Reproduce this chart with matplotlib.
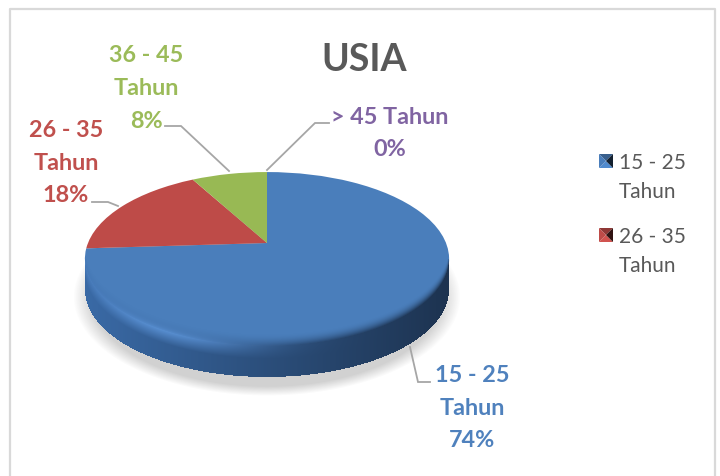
import numpy as np
from matplotlib import pyplot as plt
from matplotlib.transforms import Transform

plt.rcParams['font.family'] = ['Lato', 'DejaVu Sans']

# data
categories = ['15 - 25 Tahun', '26 - 35 Tahun', '36 - 45 Tahun', '> 45 Tahun']
values = [74, 18, 8, 0]
slice_colors = ['#4a7ebb', '#be4b48', '#98b954', '#7d60a0']
label_colors = ['#4f81bd', '#c0504d', '#9bbb59', '#8064a2']
label_lines = [['15 - 25', 'Tahun', '74%'], ['26 - 35', 'Tahun', '18%'],
               ['36 - 45', 'Tahun', '8%'], ['> 45 Tahun', '0%']]
legend_lines = [['15 - 25', 'Tahun'], ['26 - 35', 'Tahun']]
title = 'USIA'

# layout in pixels
label_pos = [(472, 376), (66, 131), (146, 56), (390, 117)]
leaders = [([410, 418, 430], [348, 383, 383]),
           ([92, 108, 118], [203, 203, 207]),
           ([165, 181, 229], [127, 127, 172]),
           ([329, 315, 267], [124, 124, 171])]
cx, apex_y, rx, ry, k = 267, 244, 179, 84, 0.184
ecy, erx, ery, depth = 260, 182, 87, 31


class Tilt(Transform):
    # tilted disc seen in perspective: unit pie -> pixels
    input_dims = output_dims = 2
    is_separable = False

    def transform_non_affine(self, xy):
        xy = np.asarray(xy, float)
        w = 1 + k * xy[:, 1]
        return np.column_stack([cx + rx * xy[:, 0] / w, apex_y - ry * xy[:, 1] / w])


fig = plt.figure(figsize=(7.2, 4.77), dpi=100)
ax = fig.add_axes([0, 0, 1, 1])

wedges, _ = ax.pie(values, colors=slice_colors, startangle=90, counterclock=False,
                   wedgeprops={'linewidth': 0})
tilt = Tilt()
for w in wedges:
    w.set_transform(tilt + ax.transData)
    w.set_zorder(3)
    w.set_clip_on(False)

# soft shadow, side wall and rim shading
X, Y = np.meshgrid(np.arange(720) + .5, np.arange(477) + .5)
d = np.sqrt(((X - cx) / 188) ** 2 + ((Y - 298) / 96) ** 2)
shadow = np.zeros((477, 720, 4))
shadow[..., :3] = 0.55
shadow[..., 3] = np.clip((1.03 - d) / 0.1, 0, 1) * 0.4
ax.imshow(shadow, extent=(0, 720, 477, 0), aspect='auto', zorder=1)

xn = np.clip((X - cx) / erx, -1, 1)
ylow = ecy + ery * np.sqrt(1 - xn ** 2)
t = (Y - ylow) / depth
pos = np.clip((X - (cx - erx)) / (2 * erx), 0, 1)
dark_l, dark_r = np.array([0x3a, 0x6a, 0xa6]), np.array([0x1d, 0x33, 0x50])
wall = dark_l[None, None, :] * (1 - pos[..., None]) + dark_r[None, None, :] * pos[..., None]
# highlight on the front left of the rim, fading towards the bottom
glow = np.exp(-((pos - 0.22) / 0.24) ** 2) * np.clip(1 - np.abs(t) / 0.4, 0, 1) * 0.75
wall = wall + (np.array([0x62, 0x9c, 0xe2]) - wall) * glow[..., None]
band = np.zeros((477, 720, 4))
band[..., :3] = wall / 255
inside = (np.abs(X - cx) < erx)
alpha = np.where(t >= 0, 1.0, np.clip(1 + t / 0.4, 0, 1) ** 2)
alpha = np.where(t > 1, 0, alpha)
# keep the bevel away from the slices at the back
alpha = np.where((Y < ecy) | ~inside, 0, alpha)
band[..., 3] = alpha
ax.imshow(band, extent=(0, 720, 477, 0), aspect='auto', zorder=4)

ax.set_xlim(0, 720)
ax.set_ylim(477, 0)
ax.set_aspect('auto')
ax.axis('off')

# chart frame
ax.plot([10, 10, 715, 715], [477, 10, 10, 477], color='#d9d9d9', lw=1.6, zorder=2)

ax.text(364, 60, title, color='#595959', fontsize=27, fontweight='bold',
        ha='center', va='center', zorder=6)

for (xs, ys) in leaders:
    ax.plot(xs, ys, color='#a6a6a6', lw=1.3, zorder=5, solid_joinstyle='miter')

for lines, col, (lx, ly) in zip(label_lines, label_colors, label_pos):
    for i, s in enumerate(lines):
        ax.text(lx, ly + i * 32.5, s, color=col, fontsize=16.8, fontweight='bold',
                ha='center', va='center', zorder=6)

# legend
for i, lines in enumerate(legend_lines):
    y0 = 162 + i * 74
    x1, x2, y1, y2 = 599, 613, y0 - 7, y0 + 7
    base = np.array([int(slice_colors[i][j:j + 2], 16) for j in (1, 3, 5)]) / 255
    mx, my = 606, y0
    ax.fill([x1, x2, mx], [y1, y1, my], color=base * 0.75, lw=0, zorder=5)
    ax.fill([x1, x2, mx], [y2, y2, my], color=np.clip(base * 1.1, 0, 1), lw=0, zorder=5)
    ax.fill([x1, x1, mx], [y1, y2, my], color=base, lw=0, zorder=5)
    ax.fill([x2, x2, mx], [y1, y2, my], color=base * 0.25, lw=0, zorder=5)
    for j, s in enumerate(lines):
        ax.text(619, y0 + 1 + j * 29, s, color='#595959', fontsize=15,
                ha='left', va='center', zorder=6)

fig.savefig('out.png', dpi=100)
